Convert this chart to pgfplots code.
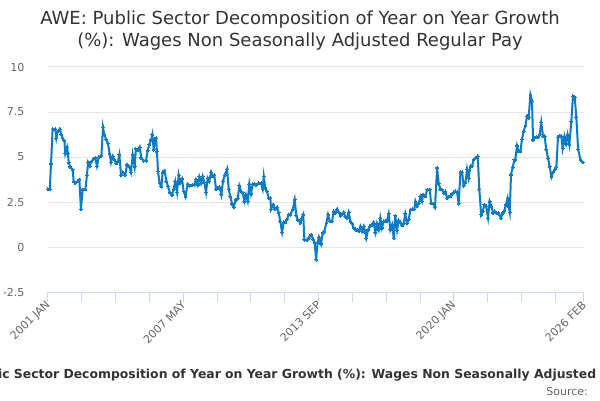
\documentclass[border=0pt]{standalone}
\usepackage{pgfplots}
\pgfplotsset{compat=1.18}
\usepackage{fontspec}
\setmainfont{DejaVu Sans}
\definecolor{linec}{HTML}{0A7BC4}
\definecolor{gridc}{HTML}{E6E6E6}
\definecolor{axisc}{HTML}{CCD6EB}
\definecolor{labc}{HTML}{666666}
\definecolor{titc}{HTML}{333333}
\begin{document}
\begin{tikzpicture}[x=1pt,y=1pt]
\useasboundingbox (0,0) rectangle (600,400);
\clip (0,0) rectangle (600,400);
\begin{axis}[
  at={(48pt,108pt)}, anchor=south west,
  scale only axis, width=535.8pt, height=225pt,
  xmin=0, xmax=301, ymin=-2.5, ymax=10,
  axis x line=bottom, axis y line=left,
  x axis line style={-, draw=axisc, line width=1pt},
  y axis line style={draw=none},
  ytick={-2.5,0,2.5,5,7.5,10},
  yticklabels={{-2.5},{0},{2.5},{5},{7.5},{10}},
  ymajorgrids, grid style={gridc, line width=1pt},
  ytick style={draw=none},
  xtick={0,76,152,228,301},
  xticklabels={{2001 JAN},{2007 MAY},{2013 SEP},{2020 JAN},{2026 FEB}},
  extra x ticks={19,38,57,95,114,133,171,190,209,247,266,285},
  extra x tick labels={},
  extra x tick style={xticklabel=\empty, grid=none},
  xtick style={draw=axisc, line width=1pt},
  tick align=outside, major tick length=10pt,
  yticklabel style={font=\fontsize{11}{13}\selectfont, text=labc, anchor=east, xshift=-10pt},
  xticklabel style={font=\fontsize{11}{13}\selectfont, text=labc, rotate=45, anchor=east, xshift=3pt, yshift=-1pt},
  clip mode=individual,
]
\addplot[color=linec, line width=2pt, mark=*, mark size=1.4pt, mark options={fill=linec, draw=linec, line width=0pt}] coordinates {
(0,3.22)(1,3.22)(1.7,4.63)(2.6,6.55)(4.1,6.55)(4.7,6.05)(5.4,6.4)(6.6,6.55)(7.5,6.25)(8.2,6.05)
(9.2,5.9)(9.7,5.2)(10.7,5.55)(11.2,5.2)(11.6,4.7)(12.5,4.45)(13.9,4.3)(14.4,3.65)(15.4,3.55)(16.7,3.65)
(17.6,3.75)(18.5,2.1)(19.5,3.2)(21.0,3.2)(21.9,4.0)(22.5,4.7)(23.4,4.5)(24.3,4.75)(25.7,4.9)(26.6,4.95)
(27.5,4.5)(28.5,5.0)(30.0,5.07)(30.9,6.65)(31.6,6.25)(32.8,5.95)(33.7,5.75)(34.6,5.2)(35.4,4.7)(36.3,5.05)
(37.3,4.85)(38.4,4.65)(39.3,4.75)(40.1,5.13)(41.0,4.0)(42.1,4.15)(43.4,4.0)(44.4,4.57)(45.7,4.45)(46.6,4.15)
(47.6,5.13)(48.7,4.45)(49.4,5.45)(50.6,5.37)(51.5,5.55)(52.4,4.95)(53.7,4.8)(55.1,4.8)(56.0,5.37)(56.9,5.7)
(57.9,5.95)(58.6,6.25)(59.4,5.4)(59.9,6.0)(60.7,6.05)(61.2,5.3)(61.8,4.2)(62.7,3.55)(63.7,3.37)(64.4,4.15)
(65.5,4.25)(66.5,3.65)(67.4,3.37)(68.4,3.03)(69.7,2.9)(70.6,3.22)(71.5,3.65)(72.5,3.03)(73.4,4.0)(74.3,3.55)
(75.3,3.78)(76.2,3.1)(77.2,2.8)(78.5,3.5)(79.6,3.4)(80.9,3.45)(82.2,3.45)(83.1,3.75)(84.1,3.45)(85.0,3.9)
(86.0,3.55)(86.9,3.93)(87.8,3.6)(88.8,3.03)(89.7,3.83)(90.6,3.65)(91.6,4.15)(92.5,3.93)(93.4,4.0)(94.4,3.22)
(95.3,3.28)(96.4,3.33)(97.4,2.9)(98.3,3.65)(99.3,4.0)(100.6,4.33)(101.5,3.22)(102.4,2.8)(103.4,2.4)(104.3,2.22)
(105.6,2.63)(106.6,2.72)(107.5,3.4)(108.4,3.1)(109.4,3.03)(110.3,2.54)(111.2,2.9)(112.2,2.54)(113.1,3.5)(114.0,2.96)
(115.0,3.5)(116.1,3.5)(117.0,3.45)(118.4,3.55)(119.7,3.55)(120.6,3.22)(121.2,3.93)(122.1,3.28)(123.0,3.1)(124.0,2.72)
(124.9,2.72)(125.3,2.1)(126.4,2.35)(127.3,2.1)(128.7,2.22)(129.6,1.9)(130.5,1.43)(131.5,0.81)(132.4,1.37)(133.3,1.37)
(134.3,1.55)(135.2,1.8)(136.1,1.8)(137.5,2.07)(138.6,2.63)(139.5,1.74)(140.4,1.52)(141.8,1.33)(142.6,1.6)(143.4,1.8)
(144.0,0.4)(145.5,0.4)(146.4,0.5)(147.8,0.68)(148.9,0.44)(149.8,0.26)(150.6,-0.7)(151.5,0.26)(152.2,0.55)(153.4,0.18)
(154.3,0.78)(155.2,0.87)(156.4,1.33)(157.3,1.8)(158.3,1.43)(159.6,1.43)(160.5,1.98)(161.4,1.89)(162.4,2.1)(163.3,1.93)
(164.3,1.74)(165.2,1.85)(166.1,1.93)(167.0,1.7)(168.0,1.61)(168.9,1.93)(169.9,1.43)(170.8,1.3)(171.7,1.06)(172.7,0.96)
(173.6,0.96)(174.6,0.87)(175.5,1.15)(176.4,0.87)(177.4,1.15)(178.3,0.81)(178.8,0.5)(179.8,0.96)(180.7,1.15)(182.0,1.24)
(182.9,1.37)(183.9,0.81)(184.8,1.3)(185.8,0.96)(186.7,1.61)(187.6,1.06)(188.6,1.43)(189.5,1.43)(190.4,1.43)(191.4,1.85)
(192.3,0.96)(193.3,1.24)(194.2,0.5)(195.1,1.74)(196.1,0.93)(197.0,1.48)(197.9,1.37)(198.9,1.19)(199.8,1.3)(200.7,1.85)
(201.7,1.33)(202.6,1.52)(203.6,2.07)(204.9,2.1)(205.8,2.1)(206.4,2.54)(207.3,2.26)(208.3,2.44)(209.2,2.81)(210.1,2.54)
(210.7,2.9)(212.0,2.81)(213.0,3.19)(214.5,3.19)(215.2,2.44)(216.3,2.41)(217.4,2.22)(218.6,4.39)(219.5,3.52)(220.4,3.22)
(221.3,3.19)(222.3,3.0)(223.2,3.09)(224.2,2.72)(225.1,2.81)(226.0,2.81)(227.0,2.96)(227.9,3.04)(228.8,3.09)(229.8,3.04)
(230.7,2.41)(231.7,4.15)(232.6,4.15)(233.5,3.41)(234.5,3.59)(235.4,4.33)(236.3,3.83)(237.3,4.48)(238.2,4.48)(239.1,4.85)
(240.1,4.94)(241.4,5.04)(242.3,3.22)(243.3,1.8)(244.2,1.98)(245.1,2.35)(246.1,2.26)(247.2,1.61)(248.1,2.54)(249.1,2.26)
(250.0,1.89)(250.9,1.98)(251.9,1.89)(252.8,1.89)(253.8,1.76)(254.5,1.61)(255.4,1.89)(256.4,2.04)(257.3,2.35)(258.2,2.72)
(258.8,2.26)(259.4,1.93)(260.1,4.02)(261.1,4.44)(262.0,4.85)(262.5,4.85)(263.5,5.63)(264.4,5.31)(265.4,5.31)(266.3,6.0)
(267.2,6.43)(268.2,6.74)(269.1,7.26)(270.0,7.17)(271.0,8.46)(271.9,8.09)(272.5,5.96)(273.4,6.06)(274.3,6.11)(275.3,6.11)
(276.2,6.24)(277.1,6.93)(278.1,6.15)(279.0,6.15)(279.9,5.41)(280.9,4.94)(281.8,4.48)(282.8,3.89)(283.7,4.15)(284.6,4.3)
(285.6,4.44)(286.5,6.11)(287.5,6.19)(288.4,6.15)(289.1,5.5)(290.1,6.15)(291.0,5.74)(291.9,6.24)(292.9,5.69)(294.0,6.98)
(294.9,8.37)(295.9,8.33)(296.8,7.22)(297.8,5.44)(299.1,4.85)(300.6,4.7)
};
\end{axis}
\node[anchor=base, text=titc, font=\fontsize{18}{21}\selectfont] at (300,375) {AWE: Public Sector Decomposition of Year on Year Growth};
\node[anchor=base, text=titc, font=\fontsize{18}{21}\selectfont] at (300,353.5) {(\%): Wages Non Seasonally Adjusted Regular Pay};
\node[anchor=base, text=titc, font=\fontsize{12.4}{14}\selectfont\bfseries] at (305.3,21.7) {AWE: Public Sector Decomposition of Year on Year Growth (\%): Wages Non Seasonally Adjusted Regular Pay};
\node[anchor=base east, inner sep=0pt, text=labc, font=\fontsize{11}{13}\selectfont] at (588,4.5) {Source:};
\end{tikzpicture}
\end{document}
